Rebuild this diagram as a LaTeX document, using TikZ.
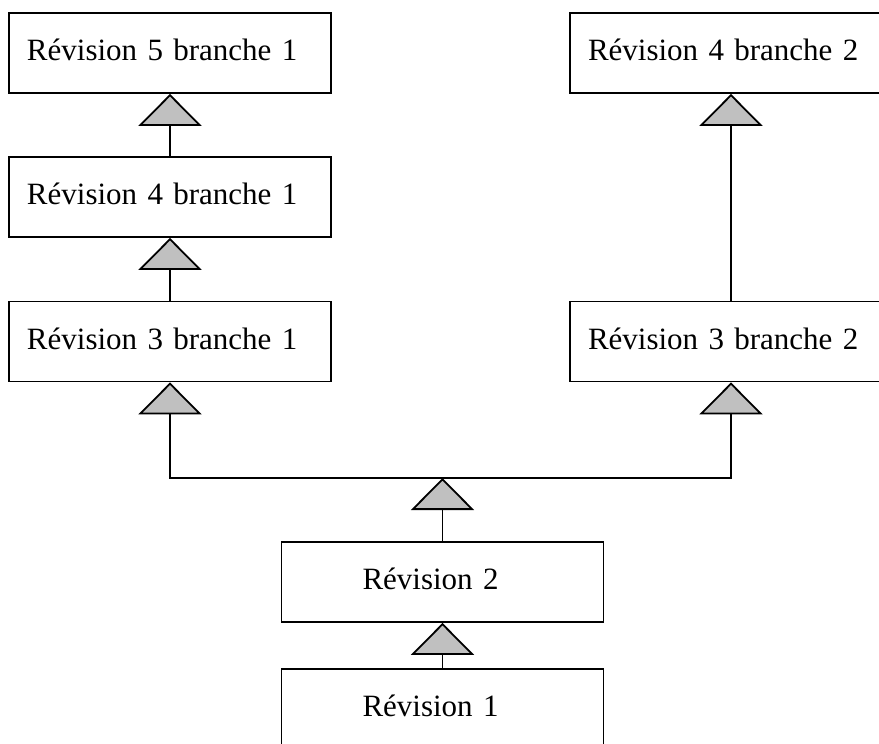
\documentclass[tikz,border=0pt]{standalone}
\usepackage{fontspec}
\setmainfont{Liberation Serif}
\usetikzlibrary{arrows.meta}
\definecolor{trigray}{RGB}{192,192,192}
\begin{document}
\begin{tikzpicture}[x=1pt,y=-1pt,
  rev/.style={draw=black, line width=1.8pt, rectangle, minimum width=322pt, minimum height=80pt,
    inner xsep=18pt, inner ysep=0pt, text width=286pt, align=left,
    font=\fontsize{31}{36}\selectfont, text height=22pt, text depth=7pt},
  revc/.style={rev, inner xsep=81pt, text width=160pt},
  conn/.style={line width=1.8pt, line join=miter,
    -{Triangle[width=63pt,length=32pt,fill=trigray]}}
]
\useasboundingbox (0,0) rectangle (879,744);
\clip (0,0) rectangle (879,744);
\node[rev]  (r5b1) at (170,53)    {Révision 5 branche 1};
\node[rev]  (r4b1) at (170,197)   {Révision 4 branche 1};
\node[rev]  (r3b1) at (170,341.5) {Révision 3 branche 1};
\node[rev]  (r4b2) at (731,53)    {Révision 4 branche 2};
\node[rev]  (r3b2) at (731,341.5) {Révision 3 branche 2};
\node[revc] (r2)   at (442.5,582) {Révision 2};
\node[revc] (r1)   at (442.5,709) {Révision 1};
\coordinate (junc) at (442.5,478);
\draw[conn] (r4b1.north) -- (r5b1.south);
\draw[conn] (r3b1.north) -- (r4b1.south);
\draw[conn] (r3b2.north) -- (r4b2.south);
\draw[conn] (r1.north) -- (r2.south);
\draw[conn] (r2.north) -- (junc);
\draw[conn] (junc) -| (r3b1.south);
\draw[conn] (junc) -| (r3b2.south);
\end{tikzpicture}
\end{document}
